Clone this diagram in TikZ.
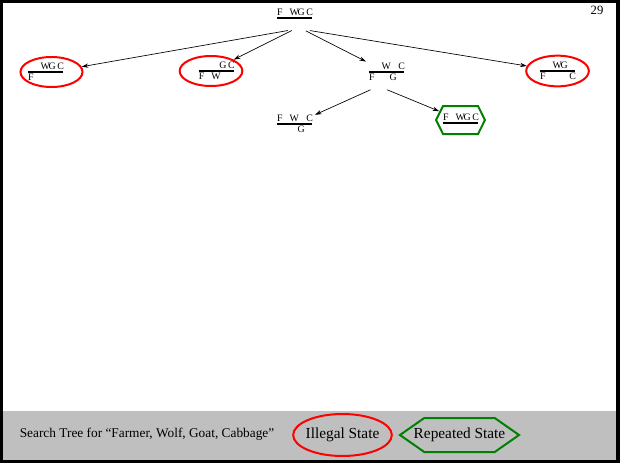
\documentclass[tikz,border=0pt]{standalone}
\usepackage{fontspec}
\setmainfont{Liberation Serif}
\usetikzlibrary{shapes.geometric,shapes.symbols,arrows.meta}

% one state: four columns F W G C, top bank over the river bar, bottom bank under it
\newcommand{\bank}[4]{\makebox[9.5pt][l]{#1}\makebox[5.9pt][l]{#2}\makebox[6.6pt][l]{#3}\makebox[4.25pt][l]{#4}}
\newcommand{\river}[2]{\vbox{\hbox{#1}\kern0.8pt\hrule height1.5pt width26.25pt\kern1.3pt\hbox{#2}}}
\newcommand{\nudge}[2]{\makebox[26.25pt][l]{\kern#1\relax#2}}

\tikzset{
  state/.style={font=\fontsize{7.4}{8}\selectfont, inner sep=2pt},
  badstate/.style={ellipse, draw=red, line width=1.5pt, inner sep=0pt},
  seenstate/.style={signal, signal to=east and west, draw=green!50!black, line width=1.5pt},
  legend/.style={font=\fontsize{11.5}{13}\selectfont}
}

\begin{document}
\begin{tikzpicture}[x=0.75pt, y=-0.75pt, line width=0.5pt, >={Stealth[length=5pt,width=3.2pt]}]
\useasboundingbox (0,0) rectangle (621,465);
% slide frame and footer band
\fill[gray!50] (3,411) rectangle (616,461);
\draw[line width=2.6pt] (1.75,1.75) rectangle (618,461.7);
\node[font=\fontsize{9.5}{11}\selectfont] (page) at (597,10) {29};

% search tree
\node[state] (fwgc) at (294.5,14.8) {\river{\bank{F}{W}{G}{C}}{}};
\node[state, badstate, minimum width=46.5pt, minimum height=22.5pt] (wgc) at (51.5,72)
  {\nudge{-4.5pt}{\river{\bank{}{W}{G}{C}}{\bank{F}{}{}{}}}};
\node[state, badstate, minimum width=47pt, minimum height=22.5pt] (gc) at (211,71)
  {\nudge{4pt}{\river{\bank{}{}{G}{C}}{\bank{F}{W}{}{}}}};
\node[state] (wc) at (386.5,72) {\river{\bank{}{W}{}{C}}{\bank{F}{}{G}{}}};
\node[state, badstate, minimum width=47pt, minimum height=23pt] (wg) at (557.5,71)
  {\river{\bank{}{W}{G}{}}{\bank{F}{}{}{C}}};
\node[state] (fwc) at (294.5,124) {\river{\bank{F}{W}{}{C}}{\bank{}{}{G}{}}};
\node[state, seenstate, inner xsep=0pt, minimum height=21pt, signal pointer angle=127] (again) at (460.5,120)
  {\river{\bank{F}{W}{G}{C}}{}};

\draw[->] ([xshift=-5pt,yshift=-5.25pt]fwgc.south) -- (wgc);
\draw[->] ([xshift=-2pt,yshift=-5.25pt]fwgc.south) -- (gc);
\draw[->] ([xshift=8.5pt,yshift=-5.5pt]fwgc.south) -- (wc);
\draw[->] ([xshift=11.5pt,yshift=-5.25pt]fwgc.south) -- (wg);
\draw[->] ([xshift=-12pt,yshift=-4.3pt]wc.south) -- (fwc);
\draw[->] ([xshift=0.5pt,yshift=-4.3pt]wc.south) -- (again);

% legend
\node[font=\fontsize{10}{12}\selectfont, anchor=west] (title) at (15,434) {Search Tree for “Farmer, Wolf, Goat, Cabbage”};
\node[legend, badstate, inner xsep=-2pt, minimum width=74pt, minimum height=31.5pt] (illegal) at (342.5,435) {Illegal State};
\node[legend, seenstate, inner xsep=-7.9pt, minimum height=25.5pt, signal pointer angle=70] (repeated) at (459.5,435) {Repeated State};
\end{tikzpicture}
\end{document}
